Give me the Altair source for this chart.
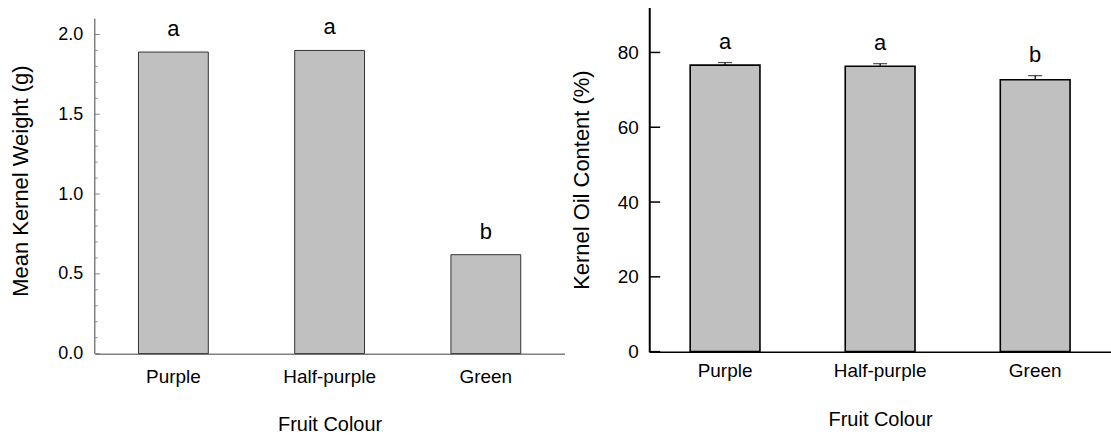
import altair as alt
import pandas as pd

# ---- data ----
categories = ["Purple", "Half-purple", "Green"]
kernel_weight = [1.89, 1.90, 0.62]
weight_letters = ["a", "a", "b"]

oil_content = [76.6, 76.3, 72.7]
oil_err = [0.7, 0.7, 1.1]
oil_letters = ["a", "a", "b"]

weight_major_ticks = [0.0, 0.5, 1.0, 1.5, 2.0]
weight_minor_ticks = [0.1, 0.2, 0.3, 0.4, 0.6, 0.7, 0.8, 0.9, 1.1, 1.2, 1.3, 1.4,
                      1.6, 1.7, 1.8, 1.9]
weight_axis_top = 2.1
oil_ticks = [0, 20, 40, 60, 80]

FONT = "Liberation Sans"

df_w = pd.DataFrame({"colour": categories, "weight": kernel_weight, "letter": weight_letters})
df_o = pd.DataFrame({"colour": categories, "oil": oil_content, "err": oil_err, "letter": oil_letters})
df_o["hi"] = df_o["oil"] + df_o["err"]

# ---------------- left panel ----------------
xs_left = alt.Scale(domain=categories, paddingInner=0.553, paddingOuter=0.28)
ys_left = alt.Scale(domain=[0, 2.16875], nice=False)

x_left_axis = alt.Axis(title="Fruit Colour", labelAngle=0, ticks=False,
                       domainColor="#808080", domainWidth=1.5,
                       labelFontSize=19, labelPadding=14,
                       titleFontSize=20, titlePadding=28)
y_left_axis = alt.Axis(title="Mean Kernel Weight (g)", values=weight_major_ticks, format=".1f",
                       domain=False, ticks=False, grid=False,
                       labelFontSize=18, labelPadding=12,
                       titleFontSize=22, titlePadding=25)


def xl():
    return alt.X("colour:N", scale=xs_left, sort=categories, axis=x_left_axis)


def yl(field):
    return alt.Y(field, scale=ys_left, axis=y_left_axis)


bars_l = alt.Chart(df_w).mark_bar(fill="#c0c0c0", stroke="#333333", strokeWidth=1).encode(
    x=xl(), y=yl("weight:Q"),
)
text_l = alt.Chart(df_w).mark_text(dy=-23, fontSize=22, font=FONT, baseline="middle").encode(
    x=xl(), y=yl("weight:Q"), text="letter:N",
)
axis_line_l = alt.Chart(pd.DataFrame({"lo": [0.0], "hi": [weight_axis_top]})).mark_rule(
    color="#808080", strokeWidth=1.5).encode(
    x=alt.value(0), y=yl("lo:Q"), y2="hi:Q",
)
major_l = alt.Chart(pd.DataFrame({"t": weight_major_ticks})).mark_rule(
    color="#808080", strokeWidth=1).encode(
    x=alt.value(0), x2=alt.value(5), y=yl("t:Q"),
)
minor_l = alt.Chart(pd.DataFrame({"t": weight_minor_ticks})).mark_rule(
    color="#909090", strokeWidth=1).encode(
    x=alt.value(0), x2=alt.value(3), y=yl("t:Q"),
)
left = alt.layer(bars_l, text_l, axis_line_l, major_l, minor_l).properties(width=471, height=347)

# ---------------- right panel ----------------
xs_right = alt.Scale(domain=categories, paddingInner=0.55, paddingOuter=0.264)
ys_right = alt.Scale(domain=[0, 92], nice=False)

x_right_axis = alt.Axis(title="Fruit Colour", labelAngle=0, ticks=False,
                        domainColor="black", domainWidth=1.5,
                        labelFontSize=19, labelPadding=10,
                        titleFontSize=20, titlePadding=29)
y_right_axis = alt.Axis(title="Kernel Oil Content (%)", values=oil_ticks,
                        domainColor="black", domainWidth=2, ticks=False, grid=False,
                        labelFontSize=19, labelPadding=11,
                        titleFontSize=22, titlePadding=24)


def xr():
    return alt.X("colour:N", scale=xs_right, sort=categories, axis=x_right_axis)


def yr(field):
    return alt.Y(field, scale=ys_right, axis=y_right_axis)


bars_r = alt.Chart(df_o).mark_bar(fill="#c0c0c0", stroke="black", strokeWidth=1.6).encode(
    x=xr(), y=yr("oil:Q"),
)
err_r = alt.Chart(df_o).mark_rule(color="black", strokeWidth=1.2).encode(
    x=xr(), y=yr("oil:Q"), y2="hi:Q",
)
cap_r = alt.Chart(df_o).mark_tick(color="black", size=14, thickness=1.2).encode(
    x=xr(), y=yr("hi:Q"),
)
text_r = alt.Chart(df_o).mark_text(dy=-21, fontSize=22, font=FONT, baseline="middle").encode(
    x=xr(), y=yr("hi:Q"), text="letter:N",
)
ticks_r = alt.Chart(pd.DataFrame({"t": oil_ticks})).mark_rule(color="black", strokeWidth=1.5).encode(
    x=alt.value(0), x2=alt.value(11), y=yr("t:Q"),
)
right = alt.layer(bars_r, err_r, cap_r, text_r, ticks_r).properties(width=463, height=345)

chart = alt.hconcat(left, right, spacing=5).properties(
    padding={"left": 9, "top": 7, "right": 0, "bottom": 0}
).configure(font=FONT).configure_view(stroke=None).configure_axis(
    labelColor="black", titleColor="black", titleFontWeight="normal",
    labelFont=FONT, titleFont=FONT,
)

chart.save("out.html", embed_options={"renderer": "svg", "actions": False})
